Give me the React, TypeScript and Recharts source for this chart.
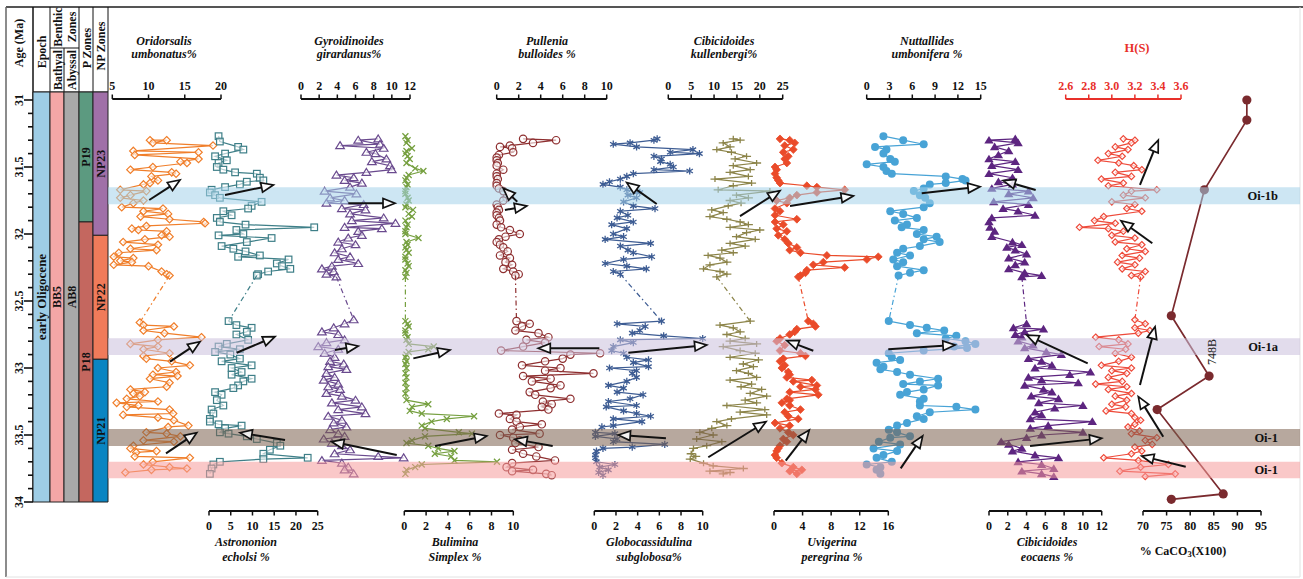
import React from 'react';
import { ScatterChart, Scatter, XAxis, YAxis, ReferenceArea, ReferenceLine, ReferenceDot, Customized } from 'recharts';

const SERIF = '"Liberation Serif", "Times New Roman", "DejaVu Serif", serif';

// ---------- layout (pixels) ----------
const CHART_W = 1303;
const CHART_H = 579;
const PLOT_L = 33;
const PLOT_R = 1300;
const PLOT_T = 99;
const PLOT_B = 511;
const Y_AT_31 = 100;
const PX_PER_MA = 134;
const ageAt = (y: number) => 31 + (y - Y_AT_31) / PX_PER_MA;
const AGE_TOP = ageAt(PLOT_T);
const AGE_BOTTOM = ageAt(PLOT_B);
const STRIP_TOP = ageAt(92);
const STRIP_BOTTOM = 34;

// ---------- tick labels ----------
const AGE_TICKS = [31, 31.1, 31.2, 31.3, 31.4, 31.5, 31.6, 31.7, 31.8, 31.9, 32, 32.1, 32.2, 32.3, 32.4, 32.5, 32.6, 32.7, 32.8, 32.9, 33, 33.1, 33.2, 33.3, 33.4, 33.5, 33.6, 33.7, 33.8, 33.9, 34];
const ORI_TICKS = [5, 10, 15, 20];
const AST_TICKS = [0, 5, 10, 15, 20, 25];
const GYR_TICKS = [0, 2, 4, 6, 8, 10, 12];
const BUL_TICKS = [0, 2, 4, 6, 8, 10];
const PUL_TICKS = [0, 2, 4, 6, 8, 10];
const GLO_TICKS = [0, 2, 4, 6, 8, 10];
const KUL_TICKS = [0, 5, 10, 15, 20, 25];
const UVI_TICKS = [0, 4, 8, 12, 16];
const NUT_TICKS = [0, 3, 6, 9, 12, 15];
const EOC_TICKS = [0, 2, 4, 6, 8, 10, 12];
const HS_TICKS = [2.6, 2.8, 3.0, 3.2, 3.4, 3.6];
const CA_TICKS = [70, 75, 80, 85, 90, 95];

// ---------- zones ----------
const EPOCH_ZONES = [{ name: 'early Oligocene', from: STRIP_TOP, to: STRIP_BOTTOM }];
const BATHYAL_ZONES = [{ name: 'BB5', from: STRIP_TOP, to: STRIP_BOTTOM }];
const ABYSSAL_ZONES = [{ name: 'AB8', from: STRIP_TOP, to: STRIP_BOTTOM }];
const P_ZONES = [
  { name: 'P19', from: STRIP_TOP, to: 31.91 },
  { name: 'P18', from: 31.91, to: STRIP_BOTTOM },
];
const NP_ZONES = [
  { name: 'NP23', from: STRIP_TOP, to: 32.01 },
  { name: 'NP22', from: 32.01, to: 32.935 },
  { name: 'NP21', from: 32.935, to: STRIP_BOTTOM },
];
const EVENTS = [
  { name: 'Oi-1b', from: 31.651, to: 31.778, color: '#a4d1e9' },
  { name: 'Oi-1a', from: 32.778, to: 32.903, color: '#cabfdc' },
  { name: 'Oi-1', from: 33.455, to: 33.582, color: '#7c614f' },
  { name: 'Oi-1', from: 33.70, to: 33.823, color: '#f69b9b' },
];
const SITE_LABEL = { text: '748B', ca: 84.6, age: 32.88 };

// ---------- series: [age (Ma), value] ----------
const ORI_UPPER = [[31.30, 10.2], [31.30, 12.5], [31.32, 10.6], [31.34, 18.9], [31.38, 7.9], [31.39, 16.9], [31.41, 8.1], [31.44, 16.9], [31.46, 14.4], [31.47, 15.3], [31.50, 10.6], [31.52, 7.5], [31.54, 13.2], [31.55, 13.8], [31.57, 10.4], [31.60, 11.3], [31.62, 10.2], [31.63, 9.3], [31.67, 6.1], [31.68, 9.7], [31.71, 7.5], [31.73, 6.1], [31.75, 9.3], [31.77, 7.9], [31.80, 6.3], [31.81, 12.0], [31.83, 9.3], [31.85, 12.7], [31.87, 8.9], [31.89, 12.9], [31.91, 17.6], [31.92, 17.8], [31.94, 9.7], [31.96, 7.7], [31.97, 8.6], [31.98, 12.5], [32.01, 11.8], [32.02, 12.9], [32.04, 9.5], [32.06, 6.5], [32.08, 11.3], [32.11, 7.5], [32.12, 11.1], [32.14, 5.9], [32.17, 5.2], [32.18, 7.9], [32.20, 6.1], [32.21, 7.7], [32.23, 5.2], [32.24, 10.0], [32.28, 11.8], [32.30, 12.5], [32.31, 12.9]];
const ORI_LOWER = [[32.66, 8.8], [32.68, 9.3], [32.69, 13.5], [32.72, 9.3], [32.74, 12.2], [32.77, 17.3], [32.79, 11.3], [32.82, 7.5], [32.84, 11.3], [32.86, 9.3], [32.89, 12.9], [32.91, 9.3], [32.93, 9.7], [32.95, 13.2], [32.98, 15.7], [33.00, 11.3], [33.03, 13.8], [33.05, 10.6], [33.06, 14.0], [33.08, 10.2], [33.11, 12.9], [33.14, 12.5], [33.16, 7.5], [33.18, 9.5], [33.19, 7.9], [33.21, 8.8], [33.23, 7.0], [33.25, 11.3], [33.26, 5.6], [33.28, 8.6], [33.29, 7.0], [33.31, 12.9], [33.34, 13.4], [33.35, 6.5], [33.37, 11.3], [33.39, 13.5], [33.43, 15.5], [33.44, 12.7], [33.48, 9.7], [33.49, 12.5], [33.51, 14.4], [33.54, 9.3], [33.55, 13.5], [33.58, 7.9], [33.60, 7.5], [33.62, 11.1], [33.63, 8.3], [33.66, 8.1], [33.67, 15.7], [33.70, 10.6], [33.72, 9.3], [33.74, 12.9], [33.75, 15.3], [33.76, 10.4], [33.78, 6.8]];

const AST_UPPER = [[31.27, 2.2], [31.31, 2.5], [31.35, 6.7], [31.37, 7.9], [31.40, 3.7], [31.42, 1.4], [31.45, 4.1], [31.47, 2.2], [31.50, 1.8], [31.52, 3.3], [31.54, 6.0], [31.55, 11.0], [31.58, 11.7], [31.60, 12.5], [31.61, 8.7], [31.63, 7.1], [31.65, 3.7], [31.67, 0.6], [31.69, 0.2], [31.71, 1.4], [31.73, 2.5], [31.76, 12.1], [31.79, 9.8], [31.81, 9.0], [31.83, 3.3], [31.86, 5.2], [31.88, 1.8], [31.91, 2.5], [31.93, 8.4], [31.95, 24.2], [31.97, 6.3], [32.00, 7.9], [32.01, 2.2], [32.03, 14.4], [32.06, 8.7], [32.09, 2.9], [32.11, 5.6], [32.13, 8.4], [32.16, 11.7], [32.17, 6.7], [32.19, 18.3], [32.22, 15.6], [32.24, 16.8], [32.26, 18.7], [32.28, 13.6], [32.30, 11.3], [32.31, 11.0]];
const AST_LOWER = [[32.65, 4.5], [32.68, 6.3], [32.70, 9.8], [32.73, 8.7], [32.75, 6.3], [32.79, 9.0], [32.82, 4.1], [32.84, 2.2], [32.86, 7.1], [32.88, 1.4], [32.90, 4.9], [32.93, 7.1], [32.95, 2.9], [32.98, 9.8], [33.00, 5.2], [33.03, 7.5], [33.05, 5.2], [33.08, 9.8], [33.10, 7.9], [33.13, 6.7], [33.15, 5.6], [33.18, 1.4], [33.20, 2.9], [33.24, 1.8], [33.28, 3.3], [33.31, 0.6], [33.34, 1.0], [33.38, 0.2], [33.40, 0.2], [33.42, 2.2], [33.43, 7.5], [33.45, 3.7], [33.48, 2.5], [33.49, 4.5], [33.51, 8.7], [33.53, 11.0], [33.56, 15.6], [33.58, 16.4], [33.61, 14.0], [33.64, 12.5], [33.67, 22.7], [33.68, 12.5], [33.70, 2.5], [33.72, 1.0], [33.75, 0.6], [33.79, 0.2]];

const GYR_UPPER = [[31.29, 8.5], [31.30, 6.3], [31.33, 8.7], [31.34, 4.3], [31.36, 9.1], [31.39, 7.2], [31.40, 8.2], [31.44, 9.4], [31.46, 7.8], [31.49, 9.8], [31.52, 10.0], [31.54, 7.2], [31.56, 3.9], [31.58, 5.8], [31.60, 4.8], [31.62, 6.7], [31.65, 5.4], [31.68, 2.6], [31.70, 6.1], [31.73, 3.2], [31.75, 4.8], [31.77, 2.8], [31.78, 6.9], [31.81, 4.5], [31.82, 7.1], [31.85, 5.4], [31.88, 9.1], [31.90, 5.6], [31.92, 10.4], [31.95, 4.8], [31.96, 8.9], [31.98, 6.3], [32.01, 6.7], [32.03, 5.2], [32.06, 4.1], [32.08, 6.0], [32.11, 4.5], [32.14, 3.7], [32.17, 5.4], [32.19, 4.1], [32.22, 6.3], [32.24, 3.4], [32.26, 2.3], [32.28, 3.6], [32.30, 2.8], [32.32, 3.9]];
const GYR_LOWER = [[32.64, 5.8], [32.67, 4.8], [32.70, 3.6], [32.73, 2.3], [32.75, 4.1], [32.79, 4.8], [32.81, 2.8], [32.84, 1.9], [32.86, 4.1], [32.89, 2.6], [32.92, 3.7], [32.95, 3.2], [32.97, 4.7], [32.99, 3.0], [33.01, 5.0], [33.04, 2.8], [33.07, 3.7], [33.09, 2.5], [33.12, 4.1], [33.14, 3.0], [33.16, 4.3], [33.19, 2.8], [33.21, 4.5], [33.24, 6.0], [33.26, 3.4], [33.29, 6.7], [33.31, 4.1], [33.34, 7.1], [33.36, 3.0], [33.39, 4.5], [33.41, 3.6], [33.44, 5.0], [33.46, 3.2], [33.49, 4.1], [33.51, 4.8], [33.53, 2.5], [33.56, 3.4], [33.58, 4.5], [33.61, 5.4], [33.64, 3.7], [33.66, 8.5], [33.67, 11.3], [33.69, 2.3], [33.71, 4.5], [33.74, 5.2], [33.76, 4.8], [33.79, 5.8]];

const BUL_UPPER = [[31.27, 0.1], [31.30, 0.3], [31.32, 0.2], [31.36, 0.7], [31.38, 0.2], [31.40, 0.1], [31.42, 0.3], [31.44, 0.5], [31.47, 0.2], [31.51, 1.0], [31.53, 1.75], [31.56, 0.4], [31.58, 0.2], [31.60, 0.1], [31.63, 0.3], [31.65, 0.2], [31.68, 0.1], [31.70, 0.1], [31.73, 0.3], [31.75, 0.4], [31.78, 0.2], [31.80, 0.1], [31.82, 0.8], [31.85, 0.4], [31.87, 0.7], [31.90, 0.1], [31.93, 0.3], [31.95, 0.2], [31.98, 0.1], [32.00, 0.1], [32.03, 1.3], [32.06, 0.2], [32.08, 0.3], [32.10, 0.1], [32.12, 0.2], [32.14, 0.4], [32.17, 0.1], [32.19, 0.1], [32.22, 0.3], [32.24, 0.4], [32.27, 0.1], [32.29, 0.2], [32.32, 0.1]];
const BUL_LOWER = [[32.65, 0.1], [32.67, 0.3], [32.69, 0.4], [32.72, 0.1], [32.74, 0.1], [32.77, 0.3], [32.79, 0.2], [32.82, 0.4], [32.84, 2.7], [32.86, 2.2], [32.88, 0.4], [32.90, 0.2], [32.92, 0.1], [32.95, 0.2], [32.97, 0.1], [33.00, 0.2], [33.04, 0.1], [33.07, 0.2], [33.11, 0.1], [33.15, 0.2], [33.19, 0.1], [33.24, 0.2], [33.27, 2.2], [33.29, 0.7], [33.32, 0.5], [33.34, 1.6], [33.36, 6.4], [33.38, 3.9], [33.40, 2.5], [33.43, 1.6], [33.45, 1.9], [33.48, 5.0], [33.49, 6.2], [33.51, 1.9], [33.54, 0.7], [33.56, 0.2], [33.58, 2.2], [33.60, 3.1], [33.62, 4.6], [33.64, 2.8], [33.66, 4.3], [33.69, 4.6], [33.70, 8.5], [33.72, 1.6], [33.74, 1.0], [33.76, 0.2], [33.79, 0.1]];

const PUL_UPPER = [[31.29, 2.4], [31.30, 5.4], [31.32, 3.3], [31.34, 1.2], [31.35, 0.3], [31.36, 1.4], [31.39, 1.5], [31.41, 0.2], [31.43, 0.0], [31.45, 0.0], [31.47, 0.1], [31.49, 0.0], [31.52, 0.6], [31.55, 0.0], [31.57, 0.0], [31.59, 0.1], [31.62, 0.0], [31.64, 0.0], [31.66, 0.2], [31.68, 0.6], [31.71, 1.2], [31.73, 0.9], [31.75, 0.6], [31.78, 0.0], [31.80, 0.1], [31.82, 0.2], [31.84, 0.0], [31.86, 0.0], [31.88, 0.2], [31.90, 0.3], [31.93, 0.0], [31.95, 0.4], [31.97, 1.2], [32.00, 2.1], [32.02, 0.8], [32.04, 0.2], [32.06, 0.0], [32.08, 0.3], [32.10, 0.6], [32.13, 1.0], [32.16, 0.3], [32.18, 1.2], [32.21, 0.8], [32.23, 1.4], [32.26, 0.6], [32.28, 1.5], [32.30, 2.0], [32.31, 1.7]];
const PUL_LOWER = [[32.65, 1.8], [32.67, 3.0], [32.69, 2.3], [32.72, 1.7], [32.74, 3.8], [32.77, 4.7], [32.79, 2.7], [32.81, 4.4], [32.84, 2.4], [32.87, 0.4], [32.89, 9.4], [32.90, 6.7], [32.93, 6.0], [32.95, 4.4], [32.98, 2.3], [33.00, 5.8], [33.02, 4.4], [33.04, 8.8], [33.06, 2.4], [33.08, 4.9], [33.10, 3.2], [33.13, 5.8], [33.15, 4.9], [33.18, 3.0], [33.20, 3.5], [33.23, 6.7], [33.25, 4.2], [33.27, 5.0], [33.29, 4.1], [33.31, 4.7], [33.34, 0.2], [33.35, 1.8], [33.38, 1.2], [33.40, 1.8], [33.42, 4.1], [33.44, 2.1], [33.46, 1.4], [33.49, 3.9], [33.50, 0.3], [33.52, 1.5], [33.54, 2.1], [33.56, 1.7], [33.59, 3.8], [33.61, 1.4], [33.64, 2.4], [33.66, 3.6], [33.69, 5.3], [33.71, 1.4], [33.74, 0.9], [33.76, 3.3], [33.77, 1.4], [33.79, 4.5], [33.80, 5.0]];

const GLO_UPPER = [[31.29, 5.8], [31.30, 5.5], [31.32, 3.3], [31.33, 1.75], [31.35, 3.9], [31.37, 9.1], [31.39, 7.0], [31.40, 9.7], [31.42, 5.5], [31.44, 6.2], [31.46, 6.1], [31.48, 7.0], [31.50, 7.3], [31.52, 5.5], [31.53, 8.8], [31.55, 3.6], [31.57, 3.0], [31.59, 2.4], [31.61, 1.4], [31.63, 0.8], [31.65, 2.4], [31.67, 3.0], [31.69, 4.2], [31.71, 3.1], [31.73, 3.9], [31.76, 2.7], [31.79, 3.6], [31.81, 5.6], [31.83, 2.4], [31.86, 3.1], [31.88, 2.1], [31.91, 3.6], [31.93, 1.6], [31.96, 3.0], [32.00, 1.75], [32.02, 2.7], [32.04, 1.0], [32.07, 5.2], [32.09, 2.4], [32.12, 3.1], [32.14, 3.6], [32.17, 5.3], [32.19, 2.7], [32.22, 1.0], [32.24, 3.0], [32.26, 4.8], [32.28, 1.75], [32.30, 2.4]];
const GLO_LOWER = [[32.65, 6.2], [32.67, 2.1], [32.69, 4.7], [32.72, 4.2], [32.74, 3.5], [32.76, 6.4], [32.78, 10.0], [32.79, 2.4], [32.81, 3.6], [32.84, 1.75], [32.87, 1.6], [32.89, 2.7], [32.92, 3.0], [32.94, 5.0], [32.96, 3.6], [32.99, 5.0], [33.00, 1.4], [33.02, 3.9], [33.04, 3.5], [33.07, 3.9], [33.10, 3.0], [33.13, 1.3], [33.15, 2.7], [33.18, 2.1], [33.20, 4.5], [33.23, 3.3], [33.25, 1.3], [33.28, 3.9], [33.29, 1.1], [33.32, 2.7], [33.34, 3.9], [33.36, 5.2], [33.38, 1.75], [33.40, 4.4], [33.43, 1.75], [33.44, 0.7], [33.48, 0.1], [33.49, 1.9], [33.51, 0.1], [33.53, 2.1], [33.55, 1.75], [33.57, 6.5], [33.59, 3.5], [33.60, 0.8], [33.62, 0.2], [33.65, 0.1], [33.67, 0.1], [33.70, 0.2], [33.72, 1.9], [33.74, 0.5], [33.76, 1.3], [33.78, 0.4], [33.80, 0.8]];

const KUL_UPPER = [[31.29, 14.2], [31.30, 15.7], [31.32, 12.0], [31.35, 13.5], [31.37, 10.6], [31.39, 13.8], [31.42, 17.1], [31.44, 14.6], [31.47, 19.3], [31.49, 14.2], [31.52, 17.9], [31.54, 13.5], [31.57, 17.5], [31.59, 10.2], [31.62, 18.2], [31.64, 14.2], [31.67, 10.9], [31.68, 22.2], [31.71, 14.9], [31.73, 17.5], [31.75, 13.5], [31.77, 15.9], [31.79, 13.1], [31.82, 9.5], [31.84, 12.0], [31.87, 9.1], [31.89, 12.8], [31.91, 15.7], [31.93, 17.5], [31.95, 13.5], [31.97, 20.0], [31.99, 17.1], [32.02, 14.9], [32.04, 19.0], [32.07, 13.5], [32.09, 16.8], [32.12, 11.7], [32.14, 14.2], [32.16, 8.7], [32.18, 11.3], [32.21, 12.8], [32.23, 9.1], [32.26, 7.7], [32.28, 11.3], [32.30, 12.8], [32.32, 10.6]];
const KUL_LOWER = [[32.65, 17.9], [32.68, 11.3], [32.70, 14.2], [32.73, 15.7], [32.75, 12.8], [32.78, 16.8], [32.80, 13.5], [32.82, 19.3], [32.84, 12.0], [32.87, 15.7], [32.89, 19.0], [32.92, 13.5], [32.94, 19.7], [32.97, 16.4], [32.99, 18.6], [33.02, 14.9], [33.04, 17.5], [33.07, 19.3], [33.09, 13.5], [33.12, 18.2], [33.14, 15.9], [33.16, 20.4], [33.19, 17.9], [33.21, 21.5], [33.24, 16.8], [33.26, 19.3], [33.28, 12.8], [33.31, 21.1], [33.33, 15.7], [33.35, 21.5], [33.38, 13.8], [33.40, 10.6], [33.43, 12.8], [33.45, 9.5], [33.48, 6.9], [33.50, 9.8], [33.53, 6.2], [33.55, 11.7], [33.58, 8.4], [33.60, 5.5], [33.64, 5.0], [33.66, 6.0], [33.68, 4.8], [33.71, 7.7], [33.73, 9.8], [33.75, 16.4], [33.77, 9.1], [33.78, 13.5], [33.79, 12.0]];

const UVI_UPPER = [[31.29, 0.84], [31.30, 2.2], [31.32, 2.9], [31.34, 1.5], [31.37, 2.7], [31.39, 1.3], [31.42, 2.0], [31.44, 1.5], [31.47, 1.8], [31.50, 0.14], [31.52, 0.37], [31.55, 0.14], [31.58, 0.37], [31.60, 0.6], [31.62, 0.84], [31.64, 4.6], [31.65, 6.0], [31.67, 9.9], [31.69, 6.0], [31.71, 3.2], [31.73, 2.2], [31.75, 0.37], [31.77, 1.8], [31.81, 0.14], [31.83, 0.84], [31.86, 0.14], [31.89, 3.2], [31.91, 0.14], [31.93, 1.3], [31.96, 0.37], [31.98, 1.8], [32.01, 0.6], [32.04, 1.5], [32.07, 2.0], [32.10, 3.2], [32.12, 2.2], [32.14, 3.7], [32.16, 7.4], [32.17, 14.6], [32.19, 13.0], [32.21, 6.9], [32.23, 5.5], [32.25, 9.9], [32.27, 4.6], [32.29, 4.4], [32.31, 3.7], [32.32, 3.4]];
const UVI_LOWER = [[32.65, 4.8], [32.67, 5.5], [32.69, 5.8], [32.71, 3.2], [32.73, 2.9], [32.75, 2.2], [32.78, 0.84], [32.80, 0.37], [32.83, 1.5], [32.87, 0.84], [32.89, 3.7], [32.91, 4.4], [32.93, 1.3], [32.95, 0.84], [32.98, 1.5], [33.00, 1.1], [33.03, 2.0], [33.05, 2.2], [33.07, 1.8], [33.09, 5.3], [33.10, 2.7], [33.13, 6.0], [33.14, 3.7], [33.16, 5.8], [33.18, 2.2], [33.20, 6.2], [33.23, 1.8], [33.24, 2.2], [33.26, 1.1], [33.28, 2.2], [33.31, 3.7], [33.33, 1.5], [33.36, 2.0], [33.38, 3.4], [33.41, 0.14], [33.43, 2.2], [33.45, 0.84], [33.48, 2.0], [33.50, 2.7], [33.53, 1.3], [33.55, 1.8], [33.58, 0.84], [33.60, 0.6], [33.62, 0.37], [33.65, 0.14], [33.67, 0.37], [33.71, 1.1], [33.74, 2.7], [33.76, 3.9], [33.77, 2.2], [33.79, 3.2]];

const NUT_UPPER = [[31.27, 2.2], [31.30, 4.8], [31.33, 7.5], [31.35, 1.1], [31.37, 2.6], [31.40, 2.2], [31.44, 3.1], [31.46, 3.7], [31.48, 0.0], [31.50, 2.2], [31.53, 2.6], [31.55, 3.3], [31.57, 10.4], [31.59, 12.6], [31.60, 13.0], [31.62, 10.4], [31.63, 8.3], [31.66, 7.5], [31.68, 6.2], [31.71, 7.0], [31.73, 7.7], [31.77, 8.3], [31.80, 7.5], [31.83, 3.1], [31.85, 4.8], [31.88, 6.6], [31.90, 3.7], [31.93, 5.3], [31.95, 4.6], [31.97, 7.5], [32.00, 6.6], [32.02, 9.2], [32.04, 7.5], [32.06, 9.6], [32.09, 7.0], [32.11, 4.8], [32.14, 4.0], [32.16, 5.7], [32.19, 3.5], [32.21, 4.8], [32.24, 4.0], [32.27, 7.5], [32.29, 5.7], [32.31, 4.2]];
const NUT_LOWER = [[32.65, 2.9], [32.68, 5.7], [32.70, 7.9], [32.72, 10.2], [32.74, 6.6], [32.76, 11.8], [32.78, 10.4], [32.80, 13.0], [32.82, 14.3], [32.84, 11.5], [32.85, 13.2], [32.87, 7.5], [32.89, 2.9], [32.92, 3.3], [32.94, 4.4], [32.96, 1.3], [32.99, 2.2], [33.01, 1.8], [33.03, 4.0], [33.05, 5.7], [33.08, 9.4], [33.10, 7.0], [33.12, 4.8], [33.13, 9.4], [33.16, 7.5], [33.18, 5.3], [33.20, 4.4], [33.23, 7.5], [33.25, 7.0], [33.28, 7.0], [33.29, 11.8], [33.31, 14.3], [33.33, 8.3], [33.36, 6.6], [33.38, 7.5], [33.41, 5.3], [33.43, 4.0], [33.46, 2.9], [33.48, 4.0], [33.51, 5.7], [33.52, 3.1], [33.55, 1.6], [33.57, 4.4], [33.60, 0.9], [33.62, 4.0], [33.65, 2.2], [33.67, 1.3], [33.70, 3.3], [33.72, 0.0], [33.74, 1.8], [33.76, 1.3], [33.79, 1.8]];

const EOC_UPPER = [[31.29, 2.8], [31.30, 0.0], [31.32, 3.1], [31.35, 0.6], [31.38, 2.1], [31.41, 1.0], [31.44, 0.0], [31.46, 2.8], [31.49, 0.3], [31.52, 3.1], [31.55, 0.0], [31.58, 2.5], [31.61, 1.0], [31.63, 2.5], [31.66, 0.3], [31.68, 4.2], [31.70, 2.1], [31.73, 4.7], [31.76, 0.5], [31.78, 4.2], [31.81, 1.5], [31.83, 3.1], [31.86, 4.9], [31.88, 0.3], [31.91, 0.0], [31.95, 0.1], [31.98, 0.6], [32.02, 0.3], [32.06, 2.5], [32.08, 3.5], [32.10, 1.9], [32.12, 2.8], [32.15, 4.0], [32.18, 2.1], [32.21, 3.8], [32.23, 2.8], [32.26, 2.1], [32.29, 3.8], [32.31, 5.6], [32.32, 3.5]];
const EOC_LOWER = [[32.67, 4.0], [32.70, 2.6], [32.71, 5.8], [32.73, 3.8], [32.75, 2.8], [32.77, 3.5], [32.80, 3.1], [32.83, 4.7], [32.85, 3.8], [32.88, 6.1], [32.90, 7.7], [32.93, 4.2], [32.95, 5.6], [32.98, 6.7], [33.00, 4.9], [33.03, 10.8], [33.05, 8.6], [33.07, 4.2], [33.09, 5.6], [33.11, 9.5], [33.13, 3.8], [33.16, 5.8], [33.18, 6.7], [33.21, 4.5], [33.23, 7.4], [33.26, 5.3], [33.28, 10.0], [33.30, 7.0], [33.33, 4.9], [33.35, 5.6], [33.38, 4.4], [33.40, 11.0], [33.43, 6.3], [33.45, 4.4], [33.48, 10.0], [33.50, 5.6], [33.52, 4.0], [33.55, 1.3], [33.57, 2.1], [33.60, 3.5], [33.62, 2.5], [33.65, 4.9], [33.67, 7.4], [33.70, 3.1], [33.72, 5.6], [33.75, 6.9], [33.77, 3.5], [33.79, 5.6], [33.81, 6.9]];

const HS_UPPER = [[31.29, 3.10], [31.30, 3.20], [31.32, 3.17], [31.35, 3.03], [31.37, 3.14], [31.40, 2.97], [31.42, 3.09], [31.45, 2.88], [31.47, 3.06], [31.49, 3.19], [31.52, 3.26], [31.54, 3.03], [31.57, 3.17], [31.59, 2.91], [31.62, 3.10], [31.64, 2.97], [31.67, 3.39], [31.68, 3.17], [31.71, 3.10], [31.73, 3.29], [31.76, 3.00], [31.78, 3.20], [31.81, 3.13], [31.83, 3.26], [31.87, 2.93], [31.90, 2.85], [31.92, 3.03], [31.95, 2.72], [31.96, 2.97], [31.98, 3.10], [32.01, 3.00], [32.03, 3.20], [32.06, 3.03], [32.08, 3.26], [32.11, 3.13], [32.13, 3.29], [32.16, 3.09], [32.18, 3.24], [32.21, 3.05], [32.23, 3.20], [32.26, 3.09], [32.28, 3.29], [32.31, 3.17], [32.32, 3.25]];
const HS_LOWER = [[32.64, 3.20], [32.67, 3.29], [32.70, 3.20], [32.72, 3.33], [32.74, 3.23], [32.77, 2.86], [32.79, 3.06], [32.82, 3.14], [32.84, 2.89], [32.86, 3.12], [32.89, 3.03], [32.92, 3.17], [32.95, 3.06], [32.98, 2.91], [33.00, 3.17], [33.02, 3.00], [33.04, 3.13], [33.07, 2.97], [33.10, 3.09], [33.12, 2.86], [33.14, 3.13], [33.16, 2.97], [33.19, 3.17], [33.21, 3.03], [33.24, 3.13], [33.27, 3.00], [33.29, 3.12], [33.32, 2.95], [33.34, 3.17], [33.37, 3.20], [33.39, 3.25], [33.42, 3.20], [33.44, 3.14], [33.47, 3.24], [33.49, 3.17], [33.52, 3.39], [33.54, 3.29], [33.57, 3.35], [33.59, 3.20], [33.62, 3.26], [33.64, 3.17], [33.67, 2.93], [33.69, 3.23], [33.72, 3.49], [33.74, 3.25], [33.77, 3.07], [33.79, 3.55], [33.81, 3.29]];

const CACO3 = [[31.00, 92], [31.15, 92], [31.67, 83], [32.61, 76], [33.06, 84], [33.31, 73], [33.94, 87], [33.98, 76]];

// ---------- arrows: [axis, value1, age1, value2, age2] (head at second point) ----------
const ARROWS: [string, number, number, number, number][] = [
  ['ori', 10.1, 31.746, 14.34, 31.597],
  ['ast', 3.68, 31.709, 14.8, 31.634],
  ['ori', 12.96, 32.953, 17.1, 32.804],
  ['ast', 6.37, 32.886, 15.18, 32.766],
  ['ori', 12.41, 33.637, 16.65, 33.483],
  ['ast', 17.48, 33.537, 7.13, 33.483],
  ['gyr', 5.21, 31.771, 10.35, 31.771],
  ['gyr', 3.74, 32.866, 6.31, 32.836],
  ['gyr', 10.54, 33.649, 3.38, 33.55],
  ['bul', 0.83, 32.928, 4.19, 32.866],
  ['bul', 2.82, 33.582, 7.56, 33.507],
  ['pul', 0.75, 31.821, 2.73, 31.791],
  ['pul', 1.87, 31.759, 0.6, 31.659],
  ['pul', 9.33, 32.853, 3.78, 32.853],
  ['pul', 5.09, 33.582, 1.66, 33.532],
  ['glo', 5.76, 31.776, 2.99, 31.617],
  ['glo', 3.14, 32.886, 10.37, 32.828],
  ['glo', 6.61, 33.525, 2.21, 33.5],
  ['kul', 15.67, 31.866, 24.41, 31.677],
  ['uvi', 2.24, 31.791, 11.1, 31.716],
  ['uvi', 5.5, 32.871, 1.78, 32.796],
  ['nut', 2.84, 32.86, 11.62, 32.828],
  ['kul', 8.74, 33.666, 21.35, 33.401],
  ['uvi', 1.64, 33.692, 4.94, 33.463],
  ['nut', 4.47, 33.749, 7.37, 33.507],
  ['nut', 7.24, 31.696, 14.91, 31.647],
  ['eoc', 4.97, 31.672, 1.52, 31.602],
  ['hs', 3.244, 31.634, 3.403, 31.299],
  ['hs', 3.351, 32.069, 3.08, 31.901],
  ['eoc', 10.51, 32.965, 4.01, 32.754],
  ['hs', 3.244, 33.127, 3.375, 32.692],
  ['hs', 3.446, 33.513, 3.23, 33.214],
  ['eoc', 4.37, 33.582, 12.0, 33.525],
  ['hs', 3.641, 33.737, 3.259, 33.657],
];

// ---------- column definitions ----------
type Col = {
  id: string; ticks: number[]; px: [number, number]; side: 'top' | 'bottom';
  color: string; axisColor: string; marker: string; upper: number[][]; lower: number[][] | null;
  fmt?: (v: number) => string;
};
const COLUMNS: Col[] = [
  { id: 'ori', ticks: ORI_TICKS, px: [112.3, 221], side: 'top', color: '#f07e2a', axisColor: '#111', marker: 'diamondO', upper: ORI_UPPER, lower: ORI_LOWER },
  { id: 'ast', ticks: AST_TICKS, px: [209, 317.7], side: 'bottom', color: '#3e7f88', axisColor: '#111', marker: 'squareO', upper: AST_UPPER, lower: AST_LOWER },
  { id: 'gyr', ticks: GYR_TICKS, px: [301, 410], side: 'top', color: '#6a4a8e', axisColor: '#111', marker: 'triO', upper: GYR_UPPER, lower: GYR_LOWER },
  { id: 'bul', ticks: BUL_TICKS, px: [404.3, 513.3], side: 'bottom', color: '#76a040', axisColor: '#111', marker: 'cross', upper: BUL_UPPER, lower: BUL_LOWER },
  { id: 'pul', ticks: PUL_TICKS, px: [496.7, 606.7], side: 'top', color: '#8e2f30', axisColor: '#111', marker: 'circleO', upper: PUL_UPPER, lower: PUL_LOWER },
  { id: 'glo', ticks: GLO_TICKS, px: [594.3, 702.7], side: 'bottom', color: '#3d5c93', axisColor: '#111', marker: 'star', upper: GLO_UPPER, lower: GLO_LOWER },
  { id: 'kul', ticks: KUL_TICKS, px: [668.3, 782.7], side: 'top', color: '#8c8449', axisColor: '#111', marker: 'plus', upper: KUL_UPPER, lower: KUL_LOWER },
  { id: 'uvi', ticks: UVI_TICKS, px: [774, 888.3], side: 'bottom', color: '#ea4b2a', axisColor: '#111', marker: 'diamondF', upper: UVI_UPPER, lower: UVI_LOWER },
  { id: 'nut', ticks: NUT_TICKS, px: [866.7, 980.7], side: 'top', color: '#48a3d6', axisColor: '#111', marker: 'dotF', upper: NUT_UPPER, lower: NUT_LOWER },
  { id: 'eoc', ticks: EOC_TICKS, px: [989, 1101.7], side: 'bottom', color: '#5d2580', axisColor: '#111', marker: 'triF', upper: EOC_UPPER, lower: EOC_LOWER },
  { id: 'hs', ticks: HS_TICKS, px: [1065.7, 1181], side: 'top', color: '#ee4a3a', axisColor: '#e8302a', marker: 'diamondS', upper: HS_UPPER, lower: HS_LOWER, fmt: (v) => v.toFixed(1) },
  { id: 'ca', ticks: CA_TICKS, px: [1143, 1261], side: 'bottom', color: '#7a2a2e', axisColor: '#111', marker: 'dotL', upper: CACO3, lower: null },
];
const N_TOP = COLUMNS.filter((c) => c.side === 'top').length;
const N_BOTTOM = COLUMNS.filter((c) => c.side === 'bottom').length;

// helper points spanning the pixel axis so that it owns a scale
const PX_ANCHORS = [{ v: PLOT_L, age: 31 }, { v: PLOT_R, age: 31 }];

const toPts = (arr: number[][]) => arr.map(([age, v]) => ({ age, v }));

function domainFor(ticks: number[], px: [number, number]): [number, number] {
  const v0 = ticks[0];
  const v1 = ticks[ticks.length - 1];
  const k = (px[1] - px[0]) / (v1 - v0);
  return [v0 - (px[0] - PLOT_L) / k, v1 + (PLOT_R - px[1]) / k];
}

function makeShape(kind: string, color: string) {
  return (p: any) => {
    const cx = p.cx;
    const cy = p.cy;
    if (cx == null || cy == null) return <g />;
    const sw = 1.2;
    switch (kind) {
      case 'diamondO': {
        const s = 3.7;
        return <path d={`M${cx},${cy - s}L${cx + s},${cy}L${cx},${cy + s}L${cx - s},${cy}Z`} fill="#fff" fillOpacity={0.6} stroke={color} strokeWidth={sw} />;
      }
      case 'diamondS': {
        const s = 3.2;
        return <path d={`M${cx},${cy - s}L${cx + s},${cy}L${cx},${cy + s}L${cx - s},${cy}Z`} fill="#fff" fillOpacity={0.6} stroke={color} strokeWidth={sw} />;
      }
      case 'squareO':
        return <rect x={cx - 3.3} y={cy - 3.3} width={6.6} height={6.6} fill="#fff" fillOpacity={0.6} stroke={color} strokeWidth={sw} />;
      case 'triO':
        return <path d={`M${cx},${cy - 3.9}L${cx + 4.3},${cy + 3}L${cx - 4.3},${cy + 3}Z`} fill="#fff" fillOpacity={0.6} stroke={color} strokeWidth={sw} />;
      case 'cross':
        return <path d={`M${cx - 3},${cy - 3}L${cx + 3},${cy + 3}M${cx - 3},${cy + 3}L${cx + 3},${cy - 3}`} stroke={color} strokeWidth={1.3} />;
      case 'circleO':
        return <circle cx={cx} cy={cy} r={3.7} fill="#fff" fillOpacity={0.6} stroke={color} strokeWidth={sw} />;
      case 'star':
        return <path d={`M${cx},${cy - 3.6}L${cx},${cy + 3.6}M${cx - 3.2},${cy - 2}L${cx + 3.2},${cy + 2}M${cx - 3.2},${cy + 2}L${cx + 3.2},${cy - 2}`} stroke={color} strokeWidth={1.3} />;
      case 'plus':
        return <path d={`M${cx - 4.5},${cy}L${cx + 4.5},${cy}M${cx},${cy - 3}L${cx},${cy + 3}`} stroke={color} strokeWidth={1.3} />;
      case 'diamondF': {
        const s = 3.9;
        return <path d={`M${cx},${cy - s}L${cx + s},${cy}L${cx},${cy + s}L${cx - s},${cy}Z`} fill={color} stroke={color} strokeWidth={0.8} />;
      }
      case 'dotF':
        return <circle cx={cx} cy={cy} r={4} fill={color} />;
      case 'triF':
        return <path d={`M${cx},${cy - 4.3}L${cx + 4.7},${cy + 3.4}L${cx - 4.7},${cy + 3.4}Z`} fill={color} />;
      case 'dotL':
        return <circle cx={cx} cy={cy} r={4.6} fill={color} />;
      default:
        return <g />;
    }
  };
}

const emptyShape = () => <g />;

const ArrowShape = (p: any) => {
  const { x1, y1, x2, y2 } = p;
  if ([x1, y1, x2, y2].some((v) => v == null || isNaN(v))) return <g />;
  const dx = x2 - x1;
  const dy = y2 - y1;
  const len = Math.hypot(dx, dy) || 1;
  const ux = dx / len;
  const uy = dy / len;
  const hl = 12;
  const hw = 4.8;
  const bx = x2 - ux * hl;
  const by = y2 - uy * hl;
  const nx = -uy;
  const ny = ux;
  return (
    <g>
      <line x1={x1} y1={y1} x2={bx} y2={by} stroke="#111" strokeWidth={2} />
      <polygon points={`${x2},${y2} ${bx + nx * hw},${by + ny * hw} ${bx - nx * hw},${by - ny * hw}`} fill="#fff" fillOpacity={0.85} stroke="#111" strokeWidth={1.7} />
    </g>
  );
};

const AgeTick = (p: any) => {
  const { x, y, payload } = p;
  const v = payload.value;
  const major = Math.abs(v * 2 - Math.round(v * 2)) < 1e-6;
  return (
    <g>
      <line x1={x - (major ? 9 : 5)} x2={x} y1={y} y2={y} stroke="#111" strokeWidth={1.6} />
      {major ? (
        <text transform={`translate(${x - 10},${y}) rotate(-90)`} textAnchor="middle" fontSize={12} fontWeight={700} fontFamily={SERIF} fill="#111">
          {String(v)}
        </text>
      ) : null}
    </g>
  );
};

// column axis tick: draws the tick mark and label at the column's top/bottom edge
const ColTick = (p: any) => {
  const { x, payload, side, color, fmt } = p;
  const v = payload.value;
  const label = fmt ? fmt(v) : String(v);
  if (side === 'top') {
    return (
      <g>
        <line x1={x} x2={x} y1={PLOT_T - 4.5} y2={PLOT_T} stroke={color} strokeWidth={1.5} />
        <text x={x} y={PLOT_T - 9} textAnchor="middle" fontSize={12} fontWeight={700} fontFamily={SERIF} fill={color}>{label}</text>
      </g>
    );
  }
  return (
    <g>
      <line x1={x} x2={x} y1={PLOT_B} y2={PLOT_B + 4.5} stroke={color} strokeWidth={1.5} />
      <text x={x} y={PLOT_B + 18.5} textAnchor="middle" fontSize={12} fontWeight={700} fontFamily={SERIF} fill={color}>{label}</text>
    </g>
  );
};

const vText = (label: string, x: number, y: number, size = 12, weight: any = 700, key?: string) => (
  <text key={key || label + x} transform={`translate(${x},${y}) rotate(-90)`} textAnchor="middle" dominantBaseline="central" fontSize={size} fontWeight={weight} fontFamily={SERIF} fill="#111">
    {label}
  </text>
);

const TOP_TITLES = [
  { lines: ['Oridorsalis', 'umbonatus%'], x: 164 },
  { lines: ['Gyroidinoides', 'girardanus%'], x: 349 },
  { lines: ['Pullenia', 'bulloides %'], x: 547 },
  { lines: ['Cibicidoides', 'kullenbergi%'], x: 724 },
  { lines: ['Nuttallides', 'umbonifera %'], x: 927 },
];
const BOTTOM_TITLES = [
  { lines: ['Astrononion', 'echolsi %'], x: 246 },
  { lines: ['Bulimina', 'Simplex %'], x: 455 },
  { lines: ['Globocassidulina', 'subglobosa%'], x: 649 },
  { lines: ['Uvigerina', 'peregrina %'], x: 832 },
  { lines: ['Cibicidoides', 'eocaens %'], x: 1047 },
];

const Decor = () => (
  <g>
    {/* frame */}
    <line x1={6} y1={7} x2={1303} y2={7} stroke="#555" strokeWidth={2} />
    <line x1={6} y1={7} x2={6} y2={577} stroke="#666" strokeWidth={1.5} />
    <line x1={6} y1={577} x2={1300} y2={577} stroke="#e2e2e2" strokeWidth={1} />
    <line x1={1300} y1={7} x2={1300} y2={577} stroke="#e2e2e2" strokeWidth={1} />
    {/* header grid */}
    <line x1={33} y1={7} x2={33} y2={502} stroke="#111" strokeWidth={1.5} />
    <line x1={50} y1={7} x2={50} y2={92} stroke="#111" strokeWidth={1} />
    <line x1={64} y1={48} x2={64} y2={92} stroke="#111" strokeWidth={1} />
    <line x1={79} y1={7} x2={79} y2={92} stroke="#111" strokeWidth={1} />
    <line x1={93} y1={7} x2={93} y2={92} stroke="#111" strokeWidth={1} />
    <line x1={108} y1={7} x2={108} y2={92} stroke="#111" strokeWidth={1} />
    <line x1={50} y1={48} x2={79} y2={48} stroke="#111" strokeWidth={1} />
    <line x1={33} y1={92} x2={108} y2={92} stroke="#111" strokeWidth={1} />
    {vText('Age (Ma)', 19, 43)}
    {vText('Epoch', 42, 52)}
    {vText('Benthic', 57.5, 27)}
    {vText('Zones', 72, 27)}
    {vText('Bathyal', 57.5, 70)}
    {vText('Abyssal', 72, 70)}
    {vText('P Zones', 86.5, 48)}
    {vText('NP Zones', 101, 46)}
    {/* titles */}
    {TOP_TITLES.map((t) => (
      <text key={t.lines[0] + t.x} textAnchor="middle" fontSize={12} fontWeight={700} fontStyle="italic" fontFamily={SERIF} fill="#111">
        <tspan x={t.x} y={45}>{t.lines[0]}</tspan>
        <tspan x={t.x} y={58}>{t.lines[1]}</tspan>
      </text>
    ))}
    <text x={1137} y={52} textAnchor="middle" fontSize={12.5} fontWeight={700} fontFamily={SERIF} fill="#e8302a">H(S)</text>
    {BOTTOM_TITLES.map((t) => (
      <text key={t.lines[0] + t.x} textAnchor="middle" fontSize={12} fontWeight={700} fontStyle="italic" fontFamily={SERIF} fill="#111">
        <tspan x={t.x} y={546}>{t.lines[0]}</tspan>
        <tspan x={t.x} y={561}>{t.lines[1]}</tspan>
      </text>
    ))}
    <text x={1183} y={555} textAnchor="middle" fontSize={12} fontWeight={700} fontFamily={SERIF} fill="#111">
      % CaCO<tspan fontSize={8.5} dy={2}>3</tspan><tspan dy={-2}>(X100)</tspan>
    </text>
  </g>
);

const stripLabel = (value: string, size = 12) => ({
  value, angle: -90, position: 'center' as const, fontSize: size, fontWeight: 700, fontFamily: SERIF, fill: '#111',
});

const STRIP_COLS = [
  { zones: EPOCH_ZONES, x: [33, 50], colors: ['#9ecde6'], size: 13 },
  { zones: BATHYAL_ZONES, x: [50, 64], colors: ['#f4a6a6'], size: 12 },
  { zones: ABYSSAL_ZONES, x: [64, 79], colors: ['#a9a9a9'], size: 12 },
  { zones: P_ZONES, x: [79, 93], colors: ['#5c9a80', '#c4675f'], size: 12 },
  { zones: NP_ZONES, x: [93, 108], colors: ['#a070a8', '#f07b5a', '#0a85c2'], size: 12 },
];

export default function App() {
  return (
    <div style={{ position: 'absolute', left: 0, top: 0, width: CHART_W, height: CHART_H, background: '#fff' }}>
      <ScatterChart width={CHART_W} height={CHART_H} margin={{ top: PLOT_T - N_TOP, right: CHART_W - PLOT_R, bottom: CHART_H - PLOT_B - N_BOTTOM, left: 8 }}>
        <XAxis xAxisId="px" type="number" dataKey="v" domain={[PLOT_L, PLOT_R]} hide />
        <YAxis
          yAxisId="age" type="number" dataKey="age" orientation="left" width={25}
          domain={[AGE_TOP, AGE_BOTTOM]} reversed ticks={AGE_TICKS} interval={0}
          axisLine={false} tickLine={false} tickSize={0} tickMargin={0} tick={<AgeTick />}
        />
        {COLUMNS.map((c) => (
          <XAxis
            key={'ax' + c.id} xAxisId={c.id} type="number" dataKey="v" orientation={c.side} height={1}
            domain={domainFor(c.ticks, c.px)} ticks={c.ticks} interval={0} axisLine={false}
            tickLine={false} tickSize={0}
            tick={<ColTick side={c.side} color={c.axisColor} fmt={c.fmt} />}
          />
        ))}

        <Scatter xAxisId="px" yAxisId="age" data={PX_ANCHORS} shape={emptyShape} isAnimationActive={false} />

        {STRIP_COLS.map((sc, i) =>
          sc.zones.map((z, j) => (
            <ReferenceArea
              key={'strip' + i + '-' + j} xAxisId="px" yAxisId="age" x1={sc.x[0]} x2={sc.x[1]} y1={z.from} y2={z.to}
              fill={sc.colors[j]} fillOpacity={1} stroke="#222" strokeWidth={1} ifOverflow="visible"
              label={stripLabel(z.name, sc.size)}
            />
          ))
        )}

        {COLUMNS.map((c) => (
          <ReferenceLine
            key={'br' + c.id} xAxisId={c.id} yAxisId="age" ifOverflow="visible"
            segment={[{ x: c.ticks[0], y: c.side === 'top' ? AGE_TOP : AGE_BOTTOM }, { x: c.ticks[c.ticks.length - 1], y: c.side === 'top' ? AGE_TOP : AGE_BOTTOM }]}
            stroke={c.axisColor} strokeWidth={1.8}
          />
        ))}

        {COLUMNS.map((c) => (
          <Scatter
            key={'u' + c.id} xAxisId={c.id} yAxisId="age" data={toPts(c.upper)} fill={c.color}
            line={{ stroke: c.color, strokeWidth: c.id === 'ca' ? 1.7 : 1.2 }} lineType="joint"
            shape={makeShape(c.marker, c.color)} isAnimationActive={false}
          />
        ))}
        {COLUMNS.filter((c) => c.lower).map((c) => (
          <Scatter
            key={'c' + c.id} xAxisId={c.id} yAxisId="age"
            data={toPts([c.upper[c.upper.length - 1], (c.lower as number[][])[0]])} fill={c.color}
            line={{ stroke: c.color, strokeWidth: 1.2, strokeDasharray: '5 3 1.5 3' }} lineType="joint"
            shape={emptyShape} isAnimationActive={false}
          />
        ))}
        {COLUMNS.filter((c) => c.lower).map((c) => (
          <Scatter
            key={'l' + c.id} xAxisId={c.id} yAxisId="age" data={toPts(c.lower as number[][])} fill={c.color}
            line={{ stroke: c.color, strokeWidth: 1.2 }} lineType="joint"
            shape={makeShape(c.marker, c.color)} isAnimationActive={false}
          />
        ))}

        {EVENTS.map((e, i) => (
          <ReferenceArea
            key={'ev' + i} xAxisId="px" yAxisId="age" x1={108} x2={PLOT_R} y1={e.from} y2={e.to}
            fill={e.color} fillOpacity={0.55} stroke="none" ifOverflow="visible" zIndex={650}
            label={{ value: e.name, position: 'insideRight', offset: 22, fill: '#111', fontSize: 12.5, fontWeight: 700, fontFamily: SERIF }}
          />
        ))}

        {ARROWS.map((a, i) => (
          <ReferenceLine
            key={'ar' + i} xAxisId={a[0]} yAxisId="age" ifOverflow="visible" zIndex={700}
            segment={[{ x: a[1], y: a[2] }, { x: a[3], y: a[4] }]}
            stroke="#111" shape={ArrowShape}
          />
        ))}

        <ReferenceDot
          xAxisId="ca" yAxisId="age" x={SITE_LABEL.ca} y={SITE_LABEL.age} r={0} ifOverflow="visible" zIndex={800}
          fill="none" stroke="none"
          label={{ value: SITE_LABEL.text, angle: -90, position: 'center', fontSize: 12, fontWeight: 400, fontFamily: SERIF, fill: '#222' }}
        />

        <Customized component={Decor} />
      </ScatterChart>
    </div>
  );
}
